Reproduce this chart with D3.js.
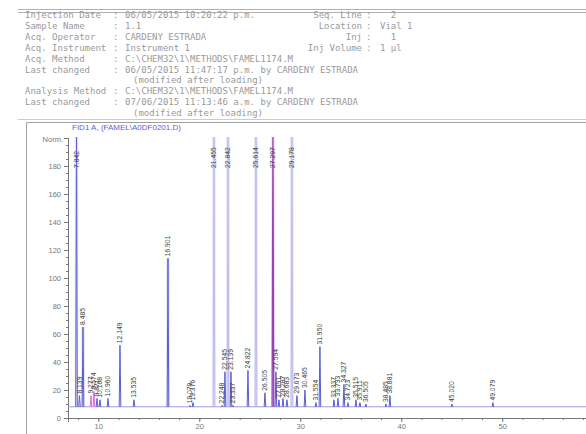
<!DOCTYPE html>
<html>
<head>
<meta charset="utf-8">
<script src="https://cdn.jsdelivr.net/npm/d3@7/dist/d3.min.js"></script>
<style>
  html, body { margin: 0; padding: 0; background: #fff; }
  svg { display: block; }
  text { white-space: pre; }
</style>
</head>
<body>
<svg id="chart" width="586" height="434"></svg>
<script>
// ---- report header ----
const headerLabels = ["Injection Date", "Sample Name", "Acq. Operator", "Acq. Instrument", "Acq. Method",
                      "Last changed", "", "Analysis Method", "Last changed", ""];
const headerValues = ["06/05/2015 10:20:22 p.m.", "1.1", "CARDENY ESTRADA", "Instrument 1",
                      "C:\\CHEM32\\1\\METHODS\\FAMEL1174.M",
                      "06/05/2015 11:47:17 p.m. by CARDENY ESTRADA", "(modified after loading)",
                      "C:\\CHEM32\\1\\METHODS\\FAMEL1174.M",
                      "07/06/2015 11:13:46 a.m. by CARDENY ESTRADA", "(modified after loading)"];
const runLabels = ["Seq. Line", "Location", "Inj", "Inj Volume"];
const runValues = ["  2", "Vial 1", "  1", "1 µl"];
const signalTitle = "FID1 A, (FAMEL\\A0DF0201.D)";

// ---- axes ----
const yUnit = "Norm.";
const yTicks = [0, 20, 40, 60, 80, 100, 120, 140, 160, 180];
const xTicks = [10, 20, 30, 40, 50];

// ---- integrated peaks: retention time (min) and apex height (Norm.) ----
const retentionTimes = [7.842, 8.139, 8.485, 9.277, 9.574, 9.871, 10.168, 10.960, 12.149, 13.535,
                        16.901, 19.079, 19.376, 21.455, 22.248, 22.545, 22.842, 23.139, 23.337, 24.822,
                        25.614, 26.505, 27.297, 27.594, 27.891, 28.287, 28.683, 29.178, 29.673, 30.465,
                        31.554, 31.950, 33.337, 33.733, 34.327, 34.723, 35.515, 35.911, 36.505, 38.485,
                        38.881, 45.020, 49.079];
const peakHeights =    [1000, 16, 65, 16, 19, 14, 13, 14, 52, 13,
                        114, 9, 11, 1000, 9, 33, 1000, 33, 9, 34,
                        1000, 18, 1000, 33, 13, 14, 13, 1000, 16, 20,
                        11, 51, 13, 14, 24, 11, 13, 11, 10, 10,
                        16, 10, 11];
const baselineLevel = 8;
const magentaPeaks = [9.277, 9.574];
const violetPeaks = [27.297];
const solventPeaks = [7.842];

// ---- layout ----
const svg = d3.select("#chart");
const mono = "'DejaVu Sans Mono', 'Liberation Mono', monospace";
const sans = "'Liberation Sans', Arial, sans-serif";

const x = d3.scaleLinear().domain([7, 58.3]).range([68, 586]);
const y = d3.scaleLinear().domain([0, 200]).range([418, 138]);

// header rules
svg.append("line").attr("x1", 18).attr("x2", 586).attr("y1", 9.5).attr("y2", 9.5).attr("stroke", "#b0b0b0");
svg.append("line").attr("x1", 18).attr("x2", 586).attr("y1", 12.5).attr("y2", 12.5).attr("stroke", "#b0b0b0");
svg.append("line").attr("x1", 18).attr("x2", 586).attr("y1", 119.5).attr("y2", 119.5).attr("stroke", "#cccccc");

const head = svg.append("g").attr("font-family", mono).attr("font-size", 9).attr("fill", "#9a9a9a");
headerLabels.forEach((lab, i) => {
  const ty = 18 + i * 10.9;
  if (lab) {
    head.append("text").attr("x", 25).attr("y", ty).text(lab);
    head.append("text").attr("x", 113).attr("y", ty).text(":");
  }
  const v = headerValues[i];
  head.append("text").attr("x", v.startsWith("(") ? 133 : 125).attr("y", ty).text(v);
});
runLabels.forEach((lab, i) => {
  const ty = 18 + i * 10.9;
  head.append("text").attr("x", 362).attr("y", ty).attr("text-anchor", "end").text(lab);
  head.append("text").attr("x", 366).attr("y", ty).text(":");
  head.append("text").attr("x", 380).attr("y", ty).text(runValues[i]);
});

// signal frame
svg.append("path").attr("d", "M26.5,434 V122.5 H586").attr("fill", "none").attr("stroke", "#a0a0a0");
svg.append("text").attr("x", 72).attr("y", 130).attr("font-family", sans).attr("font-size", 8)
  .attr("fill", "#6060e0").text(signalTitle);

// y axis
const yAxis = svg.append("g").attr("transform", "translate(68,0)")
  .call(d3.axisLeft(y).tickValues(yTicks).tickSize(4).tickPadding(3).tickFormat(d3.format("d")));
yAxis.append("g").call(d3.axisLeft(y).tickValues(d3.range(0, 201, 5)).tickSize(2).tickFormat(""));
yAxis.selectAll(".domain").attr("stroke", "#777");
yAxis.selectAll("line").attr("stroke", "#777");
yAxis.selectAll("text").attr("font-family", sans).attr("font-size", 7.5).attr("fill", "#777");
svg.append("text").attr("x", 63).attr("y", y(197)).attr("text-anchor", "end")
  .attr("font-family", sans).attr("font-size", 7.5).attr("fill", "#777").text(yUnit);

// x axis
const xAxis = svg.append("g").attr("transform", "translate(0,418)")
  .call(d3.axisBottom(x).tickValues(xTicks).tickSize(4).tickPadding(2).tickFormat(d3.format("d")));
xAxis.append("g").call(d3.axisBottom(x).tickValues(d3.range(8, 58.3, 2)).tickSize(2).tickFormat(""));
xAxis.selectAll(".domain").attr("stroke", "#777");
xAxis.selectAll("line").attr("stroke", "#777");
xAxis.selectAll("text").attr("font-family", sans).attr("font-size", 7.5).attr("fill", "#777");

// plot clip
svg.append("clipPath").attr("id", "plotClip")
  .append("rect").attr("x", 68).attr("y", 137).attr("width", 518).attr("height", 282);
const plot = svg.append("g").attr("clip-path", "url(#plotClip)");

const peaks = retentionTimes.map((t, i) => ({ t, h: peakHeights[i] }));
const yMax = y.domain()[1];
const isOff = d => d.h > yMax;
const has = (arr, t) => arr.includes(t);

function peakColor(d) {
  if (has(magentaPeaks, d.t)) return "#e070d8";
  if (has(violetPeaks, d.t)) return "#9444b8";
  if (has(solventPeaks, d.t)) return "#6262da";
  if (isOff(d)) return "#bcbcee";
  return "#5c5cd2";
}
function haloColor(d) {
  if (has(violetPeaks, d.t)) return "#f8dcf6";
  return "#e6e6f9";
}

// soft bands behind the tall and off-scale peaks
plot.selectAll("rect.halo").data(peaks.filter(d => isOff(d) || d.h > 60)).join("rect")
  .attr("class", "halo")
  .attr("x", d => x(d.t) - 1.8).attr("width", 3.6)
  .attr("y", d => y(Math.min(d.h, yMax + 5))).attr("height", d => y(baselineLevel) - y(Math.min(d.h, yMax + 5)))
  .attr("fill", d => haloColor(d));

// baseline
plot.append("line").attr("x1", x(7)).attr("x2", x(58.3))
  .attr("y1", y(baselineLevel)).attr("y2", y(baselineLevel))
  .attr("stroke", "#9a9ae4").attr("stroke-width", 1);

// peak traces
const hw = 0.08;
plot.selectAll("path.peak").data(peaks).join("path")
  .attr("class", "peak")
  .attr("d", d => {
    const top = Math.min(d.h, yMax + 5);
    return `M${x(d.t - hw)},${y(baselineLevel)} L${x(d.t)},${y(top)} L${x(d.t + hw)},${y(baselineLevel)}`;
  })
  .attr("fill", d => has(magentaPeaks, d.t) ? "#f6c8f0" : "none")
  .attr("stroke", d => peakColor(d))
  .attr("stroke-width", d => has(violetPeaks, d.t) ? 1.3 : 1);

// retention-time labels
const fmt = d3.format(".3f");
svg.append("g").selectAll("text").data(peaks).join("text")
  .attr("transform", d => {
    const yb = isOff(d) ? 168 : y(d.h) - 2;
    return `translate(${x(d.t) + 2.4},${yb}) rotate(-90)`;
  })
  .attr("font-family", sans).attr("font-size", 6.8).attr("fill", "#444")
  .text(d => fmt(d.t));
</script>
</body>
</html>
